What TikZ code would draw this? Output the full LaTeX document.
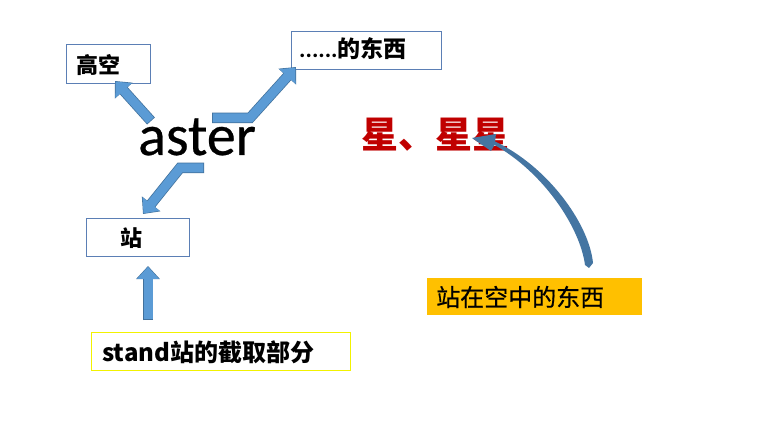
\documentclass[tikz,border=0pt]{standalone}
\usepackage{fontspec}
\setmainfont{Carlito}
\newfontfamily\asterfont{Carlito}[FakeBold=0.5]
\newfontfamily\cjk{Noto Sans CJK SC}
\newfontfamily\cjkmed{Noto Sans CJK SC}[FakeBold=0.6]
\usetikzlibrary{arrows.meta}
\definecolor{arrowblue}{HTML}{5B9BD5}
\definecolor{arrowedge}{HTML}{41719C}
\definecolor{boxedge}{HTML}{5B7FB5}
\definecolor{starred}{HTML}{C00000}
\definecolor{orangefill}{HTML}{FFC000}
\definecolor{yellowedge}{HTML}{F2F200}
\tikzset{
  wordbox/.style={draw=boxedge, line width=0.8pt, inner sep=0pt},
  label/.style={font=\cjk\bfseries\fontsize{22}{22}\selectfont, text=black, anchor=center, inner sep=0pt},
  blockarrow/.style={draw=arrowblue, line width=9pt, line join=miter,
    -{Triangle[width=21pt,length=12pt]}},
  blockedge/.style={draw=arrowedge, line width=10.5pt, line join=miter,
    -{Triangle[width=23pt,length=13pt]}},
}
\begin{document}
\begin{tikzpicture}[x=1pt,y=-1pt]
\useasboundingbox (0,0) rectangle (759,435);
\fill[white] (0,0) rectangle (759,435);

% boxes
\node[wordbox, minimum width=84pt, minimum height=39pt] (gaokong) at (108,63.5) {};
\node[label] at (98.5,65) {高空};

\node[wordbox, minimum width=150pt, minimum height=38pt] (dongxi) at (366,50) {};
\node[label, anchor=west] at (299,49) {\rmfamily\bfseries\fontsize{24}{24}\selectfont......\cjk\fontsize{23}{23}\selectfont 的东西};

\node[wordbox, minimum width=103pt, minimum height=38pt] (zhan) at (137.5,237) {};
\node[label] at (131,238) {站};

\node[draw=yellowedge, line width=0.8pt, minimum width=259pt, minimum height=38pt, inner sep=0pt] (stand) at (220.5,351) {};
\node[label, anchor=west, font=\cjk\bfseries\fontsize{24}{24}\selectfont] at (102,352) {stand站的截取部分};

\node[fill=orangefill, minimum width=215pt, minimum height=37pt, inner sep=0pt] (inair) at (534.5,296.5) {};
\node[label, anchor=west, font=\cjkmed\fontsize{24}{24}\selectfont] at (436,297) {站在空中的东西};

% main words
\node[font=\asterfont\fontsize{58}{58}\selectfont, anchor=base west, inner sep=0pt] (aster) at (138,155) {aster};
\node[font=\cjk\bfseries\fontsize{37}{37}\selectfont, text=starred, anchor=west, inner sep=0pt] (xing) at (361,135) {星、星星};

% block arrows
\coordinate (a1s) at (151,121);
\coordinate (a1e) at (115,81);
\coordinate (a2s) at (212,118);
\coordinate (a2m) at (250,118);
\coordinate (a2e) at (296,67);
\coordinate (a3s) at (204,168);
\coordinate (a3m) at (180,168);
\coordinate (a3e) at (143,214);
\coordinate (a4s) at (148,320);
\coordinate (a4e) at (148,266);
\foreach \p in {{(a1s) -- (a1e)}, {(a2s) -- (a2m) -- (a2e)}, {(a3s) -- (a3m) -- (a3e)}, {(a4s) -- (a4e)}}{
  \draw[blockedge] \p;
  \draw[blockarrow, shorten >=0.8pt, shorten <=0.75pt] \p;
}

% curved arrow
\coordinate (cs) at (593,263);
\coordinate (ce) at (472,138);
\fill[arrowedge!90!arrowblue] (cs) .. controls (589,223) and (547,166) .. (495,141.5)
   -- (496,134) -- (ce) -- (491,151) -- (494.5,145)
   .. controls (543,172) and (580,227) .. (585,265) -- (589,268) -- cycle;
\end{tikzpicture}
\end{document}
